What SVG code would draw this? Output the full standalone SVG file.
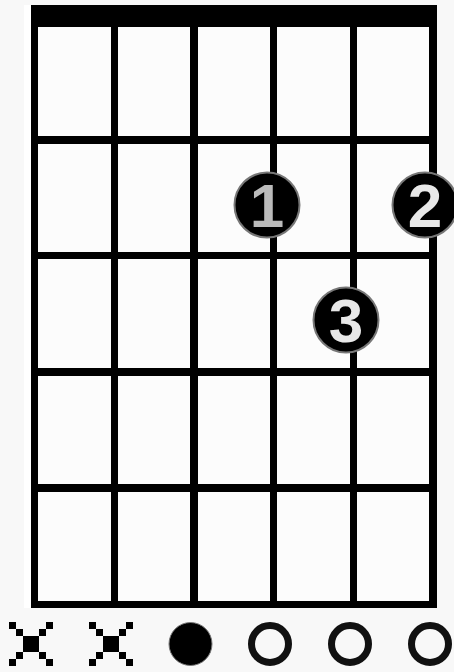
<svg xmlns="http://www.w3.org/2000/svg" width="454" height="672" viewBox="0 0 454 672">
<style>
.ln{fill:#000}
.dot{fill:#000;stroke:#777;stroke-width:2}
.num{font-family:"Liberation Sans",Arial,sans-serif;font-weight:bold;font-size:62px;text-anchor:middle}
.open{fill:none;stroke:#111;stroke-width:7}
</style>
<defs>
<g id="xmark" fill="#000">
<rect x="0" y="0" width="7" height="7"/><rect x="37" y="0" width="7" height="7"/>
<rect x="7" y="7" width="7" height="7"/><rect x="30" y="7" width="7" height="7"/>
<rect x="14" y="14" width="16" height="16"/>
<rect x="7" y="30" width="7" height="7"/><rect x="30" y="30" width="7" height="7"/>
<rect x="0" y="37" width="7" height="7"/><rect x="37" y="37" width="7" height="7"/>
</g>
</defs>
<rect width="454" height="672" fill="#f8f8f8"/>
<rect x="24" y="5" width="7" height="603" fill="#ffffff"/>
<rect x="31" y="5" width="406" height="603" fill="#fcfcfc"/>
<g id="grid">
<rect class="ln" x="31" y="5" width="406" height="22"/>
<rect class="ln" x="31" y="5" width="7" height="603"/>
<rect class="ln" x="111" y="5" width="7" height="603"/>
<rect class="ln" x="190" y="5" width="8" height="603"/>
<rect class="ln" x="270" y="5" width="7" height="603"/>
<rect class="ln" x="350" y="5" width="7" height="603"/>
<rect class="ln" x="429" y="5" width="8" height="603"/>
<rect class="ln" x="31" y="136" width="406" height="8"/>
<rect class="ln" x="31" y="252" width="406" height="7"/>
<rect class="ln" x="31" y="368" width="406" height="8"/>
<rect class="ln" x="31" y="484" width="406" height="8"/>
<rect class="ln" x="31" y="601" width="406" height="7"/>
</g>
<g id="finger1">
<circle class="dot" cx="267" cy="205" r="32.5"/>
<text class="num" x="267" y="227" fill="#bbbbbb">1</text>
</g>
<g id="finger2">
<circle class="dot" cx="425" cy="205" r="32.5"/>
<text class="num" x="425" y="227" fill="#e8e8e8">2</text>
</g>
<g id="finger3">
<circle class="dot" cx="346" cy="320" r="32.5"/>
<text class="num" x="346" y="342" fill="#e8e8e8">3</text>
</g>
<g id="string-markers">
<use id="mute1" href="#xmark" x="9" y="622"/>
<use id="mute2" href="#xmark" x="89" y="622"/>
<g id="root"><circle cx="190.5" cy="644" r="21.5" fill="#000" stroke="#777" stroke-width="1"/></g>
<g id="open1"><circle class="open" cx="270" cy="644" r="18.5"/></g>
<g id="open2"><circle class="open" cx="350" cy="644" r="18.5"/></g>
<g id="open3"><circle class="open" cx="430" cy="644" r="18.5"/></g>
</g>
</svg>
